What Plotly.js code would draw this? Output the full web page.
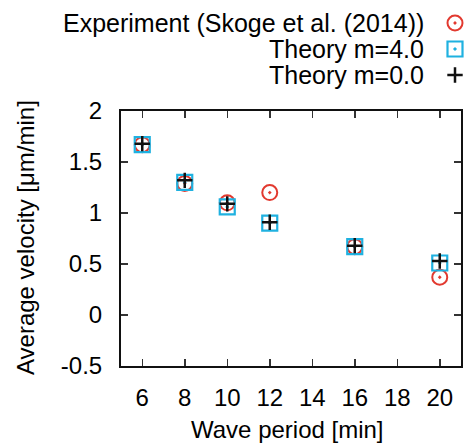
<!DOCTYPE html>
<html>
<head>
<meta charset="utf-8">
<script src="https://cdn.plot.ly/plotly-3.0.1.min.js"></script>
<style>html,body{margin:0;padding:0;background:#fff;}#chart{width:465px;height:443px;}</style>
</head>
<body>
<div id="chart"></div>
<script>
const periods = [6, 8, 10, 12, 16, 20];
const experiment = [1.67, 1.29, 1.10, 1.20, 0.67, 0.37];
const theory4 = [1.67, 1.30, 1.06, 0.90, 0.67, 0.51];
const theory0 = [1.68, 1.32, 1.09, 0.91, 0.68, 0.53];
const seriesNames = ["Experiment (Skoge et al. (2014))", "Theory m=4.0", "Theory m=0.0"];
const xTicks = [6, 8, 10, 12, 14, 16, 18, 20];
const yTicks = [-0.5, 0, 0.5, 1, 1.5, 2];
const xTitle = "Wave period [min]";
const yTitle = "Average velocity [μm/min]";

const red = "#e2392f", blue = "#1fb1e0", black = "#111111";
const font = "Liberation Sans, Arial, Helvetica, sans-serif";

const styles = [
  {symbol: "circle-open-dot", color: red, size: 15, lw: 2},
  {symbol: "square-open-dot", color: blue, size: 15, lw: 2.2},
  {symbol: "cross-thin-open", color: black, size: 11, lw: 2.5}
];
const values = [experiment, theory4, theory0];

const traces = values.map((v, i) => ({
  type: "scatter", mode: "markers", x: periods, y: v, name: seriesNames[i],
  showlegend: false, cliponaxis: false,
  marker: {symbol: styles[i].symbol, size: styles[i].size, color: styles[i].color,
           line: {color: styles[i].color, width: styles[i].lw}}
}));

// custom legend (key on the right of right-aligned text)
const legendY = [23, 49, 75];
const legendKeyX = 455, legendTextX = 426;
seriesNames.forEach((n, i) => {
  traces.push({
    type: "scatter", mode: "markers", x: [legendKeyX], y: [legendY[i]],
    xaxis: "x2", yaxis: "y2", showlegend: false, hoverinfo: "skip", cliponaxis: false,
    marker: {symbol: styles[i].symbol, size: styles[i].size, color: styles[i].color,
             line: {color: styles[i].color, width: styles[i].lw}}
  });
});

const axisCommon = {
  showline: true, linecolor: black, linewidth: 2, mirror: "ticks",
  ticks: "inside", ticklen: 7, tickwidth: 1.5, tickcolor: "#333",
  showgrid: false, zeroline: false,
  tickfont: {family: font, size: 24, color: "#000"}
};

const layout = {
  width: 465, height: 443,
  margin: {l: 121, r: 4, t: 0, b: 77},
  paper_bgcolor: "#fff", plot_bgcolor: "#fff",
  font: {family: font, size: 24, color: "#000"},
  xaxis: Object.assign({}, axisCommon, {
    range: [5, 21], tickvals: xTicks, ticktext: xTicks.map(String),
    ticklabelstandoff: 9
  }),
  yaxis: Object.assign({}, axisCommon, {
    domain: [0, 0.6967], range: [-0.5, 2], tickvals: yTicks, ticktext: yTicks.map(String),
    ticklabelstandoff: 12
  }),
  xaxis2: {domain: [0, 1], range: [121, 461], visible: false, fixedrange: true, anchor: "y2"},
  yaxis2: {domain: [0.75, 1], range: [91.5, 0], visible: false, fixedrange: true, anchor: "x2"},
  annotations: seriesNames.map((n, i) => ({
    xref: "x2", yref: "y2", x: legendTextX, y: legendY[i], text: n,
    xanchor: "right", yanchor: "middle", showarrow: false,
    font: {family: font, size: 25, color: "#000"}
  })).concat([
    {xref: "paper", yref: "paper", x: (287 - 121) / 340, y: (366 - 429) / 366, text: xTitle,
     xanchor: "center", yanchor: "middle", showarrow: false,
     font: {family: font, size: 24, color: "#000"}},
    {xref: "paper", yref: "paper", x: (25 - 121) / 340, y: (366 - 238) / 366, text: yTitle,
     textangle: -90, xanchor: "center", yanchor: "middle", showarrow: false,
     font: {family: font, size: 24, color: "#000"}}
  ])
};

Plotly.newPlot("chart", traces, layout, {staticPlot: true, displayModeBar: false});
</script>
</body>
</html>
